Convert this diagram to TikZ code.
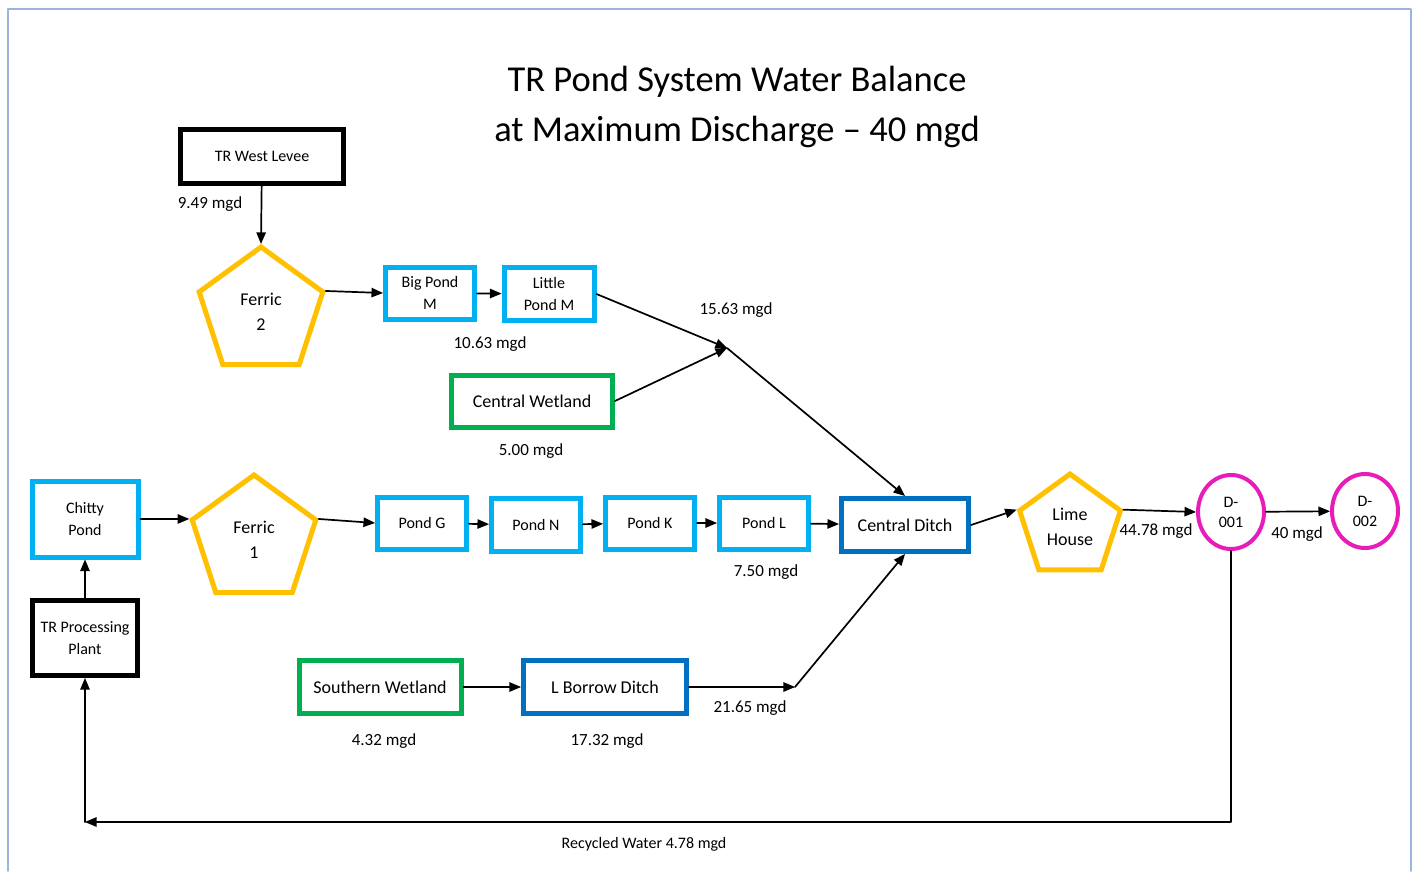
\documentclass[tikz,border=0pt]{standalone}
\usepackage{fontspec}
\setmainfont{Carlito}
\usepackage{xcolor}
\usetikzlibrary{arrows,shapes.geometric}
\definecolor{pondc}{HTML}{00B0F0}
\definecolor{wetc}{HTML}{00B050}
\definecolor{ditchc}{HTML}{0070C0}
\definecolor{ferc}{HTML}{FFC000}
\definecolor{outc}{HTML}{E81CB8}
\definecolor{framec}{HTML}{9DB3E0}

\begin{document}
\begin{tikzpicture}
			[line cap=round,line join=round,>=triangle 45,x=1pt,y=-1pt,
			box/.style={draw,line width=5pt,line cap=butt,line join=miter,align=center,font=\fontsize{16}{22}\selectfont},
			srcbox/.style={box,draw=black},
			pondbox/.style={box,draw=pondc},
			wetbox/.style={box,draw=wetc,font=\fontsize{18}{22}\selectfont},
			ditchbox/.style={box,draw=ditchc,font=\fontsize{18}{22}\selectfont},
			ferric/.style={draw=ferc,line width=5pt,line join=miter,regular polygon,regular polygon sides=5,align=center,inner sep=0pt,text depth=-6pt,font=\fontsize{18}{25}\selectfont},
			outfall/.style={draw=outc,line width=4pt,ellipse,minimum width=66pt,minimum height=74pt,align=center,inner sep=0pt,font=\fontsize{16}{20}\selectfont},
			flow/.style={->,line width=1.7pt},
			lbl/.style={font=\fontsize{17}{20}\selectfont}]
			\useasboundingbox (0,0) rectangle (1413,871);
			\draw [framec,line width=1.5pt] (8,871) -- (8,9) -- (1411,9) -- (1411,871);
			\node (title) at (737,107) [align=center,font=\fontsize{36.5}{50}\selectfont] {TR Pond System Water Balance\\at Maximum Discharge -- 40 mgd};
			\node (levee) at (262,156) [srcbox,minimum width=163pt,minimum height=54pt] {TR West Levee};
			\node (fe2) at (261,312) [ferric,minimum size=130pt] {Ferric\\2};
			\node (bigm) at (430,293) [pondbox,minimum width=89pt,minimum height=52pt] {Big Pond\\M};
			\node (litm) at (549,294) [pondbox,minimum width=90pt,minimum height=53pt] {Little\\Pond M};
			\node (cwet) at (532,401) [wetbox,minimum width=161pt,minimum height=52pt] {Central Wetland};
			\node (chitty) at (85,519) [pondbox,minimum width=106pt,minimum height=76pt] {Chitty\\Pond};
			\node (plant) at (85,638) [srcbox,minimum width=105pt,minimum height=75pt] {TR Processing\\Plant};
			\node (fe1) at (254,540) [ferric,minimum size=130pt] {Ferric\\1};
			\node (pondg) at (422,523) [pondbox,minimum width=89pt,minimum height=52pt] {Pond G};
			\node (pondn) at (536,525) [pondbox,minimum width=89pt,minimum height=53pt] {Pond N};
			\node (pondk) at (650,523) [pondbox,minimum width=89pt,minimum height=52pt] {Pond K};
			\node (pondl) at (764,523) [pondbox,minimum width=89pt,minimum height=52pt] {Pond L};
			\node (cditch) at (905,525) [ditchbox,minimum width=127pt,minimum height=53pt] {Central Ditch};
			\node (lime) at (1070,527) [ferric,minimum size=106pt] {Lime\\House};
			\node (d1) at (1231,512) [outfall] {D-\\001};
			\node (d2) at (1365,511) [outfall] {D-\\002};
			\node (swet) at (380,687) [wetbox,minimum width=162pt,minimum height=53pt] {Southern Wetland};
			\node (lbd) at (605,687) [ditchbox,minimum width=163pt,minimum height=53pt] {L Borrow Ditch};
			\coordinate (jn) at (727,348);
			\coordinate (js) at (795,687);
			\coordinate (rc) at (1231,822);
			\coordinate (lc) at (85,822);
			\node (q1) at (210,204) [lbl] {9.49 mgd};
			\node (q2) at (490,344) [lbl] {10.63 mgd};
			\node (q3) at (736,310) [lbl] {15.63 mgd};
			\node (q4) at (531,451) [lbl] {5.00 mgd};
			\node (q5) at (766,572) [lbl] {7.50 mgd};
			\node (q6) at (1156,531) [lbl] {44.78 mgd};
			\node (q7) at (1297,534) [lbl] {40 mgd};
			\node (q8) at (750,708) [lbl] {21.65 mgd};
			\node (q9) at (384,741) [lbl] {4.32 mgd};
			\node (q10) at (607,741) [lbl] {17.32 mgd};
			\node (q11) at (644,844) [font=\fontsize{16}{18}\selectfont] {Recycled Water 4.78 mgd};
			\draw [flow] (levee) -- (fe2.corner 1);
			\draw [flow] (fe2.corner 5) -- (bigm.west);
			\draw [flow] (bigm) -- (litm);
			\draw [flow] (litm.east) -- (jn);
			\draw [flow] (cwet.east) -- (jn);
			\draw [flow] (jn) -- (cditch.north);
			\draw [flow] (plant) -- (chitty);
			\draw [flow] (chitty) -- (fe1.corner 2);
			\draw [flow] (fe1.corner 5) -- (pondg.west);
			\draw [flow] (pondg) -- (pondn);
			\draw [flow] (pondn) -- (pondk);
			\draw [flow] (pondk) -- (pondl);
			\draw [flow] (pondl) -- (cditch);
			\draw [flow] (cditch.east) -- (lime.corner 2);
			\draw [flow] (lime.corner 5) -- (d1.west);
			\draw [flow] (d1) -- (d2);
			\draw [flow] (swet) -- (lbd);
			\draw [flow] (lbd.east) -- (js);
			\draw [flow] (js) -- (cditch.south);
			\draw [flow] (d1.south) -- (rc) -- (lc);
			\draw [flow] (lc) -- (plant.south);
		\end{tikzpicture}
\end{document}
